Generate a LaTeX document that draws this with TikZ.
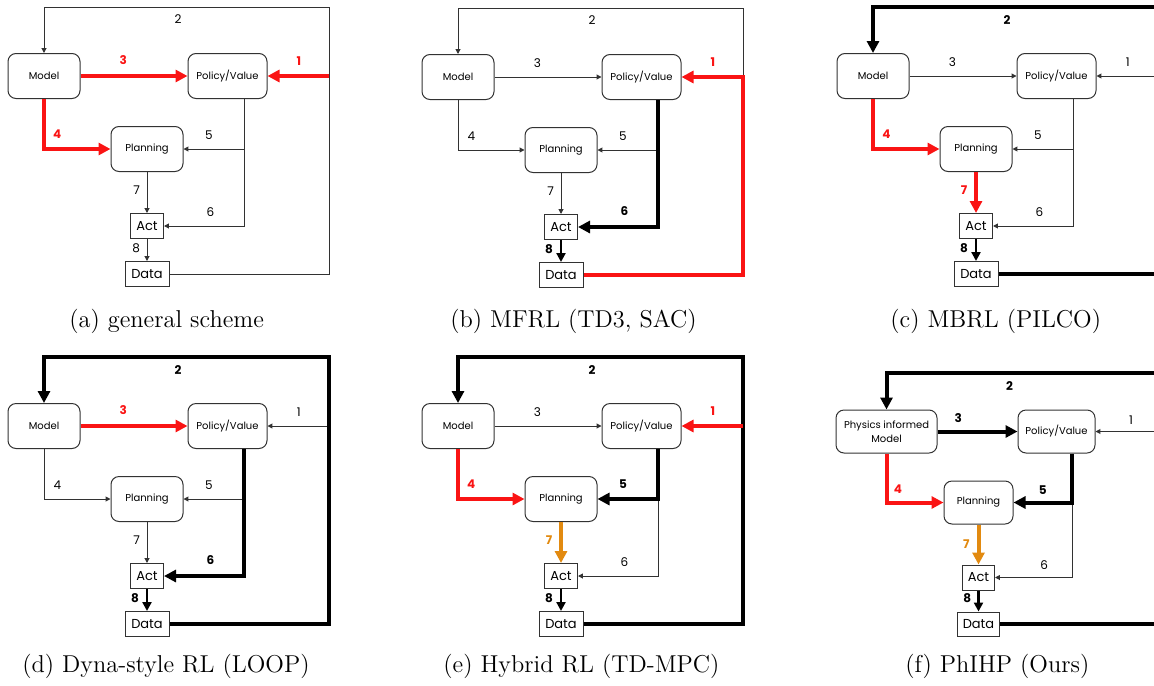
\documentclass[tikz,border=0pt]{standalone}
\usepackage{fontspec}
\usetikzlibrary{arrows.meta,positioning}
\newfontfamily\gothic{Poppins}
\definecolor{PathRed}   {RGB}{250, 20, 20}
\definecolor{PathOrange}{RGB}{226,138, 16}
\definecolor{LineGray}  {RGB}{ 50, 50, 50}
\newcommand{\boxfont}{\gothic\fontsize{5}{6}\selectfont}
\newcommand{\actfont}{\gothic\fontsize{6.5}{7.5}\selectfont}
\newcommand{\numfont}{\gothic\fontsize{6}{7}\selectfont}
\newcommand{\subcapfont}{\fontsize{12.2}{14}\selectfont}
\tikzset{
  %% 圆角框 / 方框
  rlbox/.style={rectangle,rounded corners=4pt,draw=LineGray,line width=0.5pt,
                minimum width=36pt,minimum height=22.5pt,inner sep=1pt,
                font=\boxfont,align=center},
  sqbox/.style={rectangle,draw=LineGray,line width=0.5pt,
                minimum width=16.5pt,minimum height=12.5pt,inner sep=1pt,
                font=\actfont},
  %% 箭头
  tharr/.style={-{Triangle[length=2.4pt,width=2.4pt]},line width=0.5pt,color=LineGray},
  tkarr/.style={-{Triangle[length=6pt,width=6pt]},line width=2pt,color=black},
  mdarr/.style={-{Triangle[length=4.5pt,width=4.5pt]},line width=1.4pt,color=black},
  rdarr/.style={tkarr,color=PathRed},
  orarr/.style={tkarr,color=PathOrange},
  %% 编号
  num/.style={font=\numfont,inner sep=0.5pt,text=black},
  numb/.style={num,font=\numfont\bfseries},
  numr/.style={numb,text=PathRed},
  numo/.style={numb,text=PathOrange},
  subcap/.style={font=\subcapfont,anchor=base west,inner sep=0pt},
}
\begin{document}
\begin{tikzpicture}[x=0.5pt,y=-0.5pt]
  \useasboundingbox (0,0) rectangle (1154,685);
  \clip (0,0) rectangle (1154,685);

  %% (a) general scheme
  \begin{scope}
    \node[rlbox] (MDa) at (44,76) {Model};
    \node[rlbox, minimum width=39.5pt, right=53.5pt of MDa] (PVa) {Policy/Value};
    \node[rlbox, below right=13.5pt and 15pt of MDa] (PLa) {Planning};
    \node[sqbox, below=20.5pt of PLa] (ACTa) {Act};
    \node[sqbox, minimum width=22pt, below=11pt of ACTa] (DATa) {Data};
    \coordinate (TRa) at (329,7);
    \coordinate (TLa) at (MDa.north |- TRa);
    \coordinate (Ra)  at (TRa |- PVa.east);
    \coordinate (DTa) at ([xshift=8.25pt]PVa.south);

    \draw[tharr] (DATa.east) -| (TRa) -- node[num,pos=.53,below=2.9pt] (n2a) {2} (TLa) -- (MDa.north);
    \draw[tharr] (DTa) |- node[num,pos=.79,above=4pt] (n5a) {5} (PLa.east);
    \draw[tharr] (DTa) |- node[num,pos=.71,above=4pt] (n6a) {6} (ACTa.east);
    \draw[tharr] (PLa.south) -- node[num,pos=.44,left=2.8pt] (n7a) {7} (ACTa.north);
    \draw[tharr] (ACTa.south) -- node[num,pos=.41,left=2.8pt] (n8a) {8} (DATa.north);
    \draw[rdarr] (MDa.east) -- node[numr,pos=.4,above=4pt] (n3a) {3} (PVa.west);
    \draw[rdarr] (Ra) -- node[numr,pos=.49,above=4pt] (n1a) {1} (PVa.east);
    \draw[rdarr] (MDa.south) |- node[numr,pos=.6,above=4pt] (n4a) {4} (PLa.west);
  \end{scope}

  %% (b) MFRL
  \begin{scope}[shift={(414,1)}]
    \node[rlbox] (MDb) at (44,76) {Model};
    \node[rlbox, minimum width=39.5pt, right=53.5pt of MDb] (PVb) {Policy/Value};
    \node[rlbox, below right=13.5pt and 15pt of MDb] (PLb) {Planning};
    \node[sqbox, below=20.5pt of PLb] (ACTb) {Act};
    \node[sqbox, minimum width=22pt, below=11pt of ACTb] (DATb) {Data};
    \coordinate (TRb) at (329,7);
    \coordinate (TLb) at (MDb.north |- TRb);
    \coordinate (Rb)  at (TRb |- PVb.east);
    \coordinate (DTb) at ([xshift=8.25pt]PVb.south);

    \draw[tharr] (Rb) -- (TRb) -- node[num,pos=.53,below=2.9pt] (n2b) {2} (TLb) -- (MDb.north);
    \draw[tharr] (MDb.east) -- node[num,pos=.4,above=4pt] (n3b) {3} (PVb.west);
    \draw[tharr] (MDb.south) |- node[num,pos=.6,above=4pt] (n4b) {4} (PLb.west);
    \draw[tharr] (DTb) |- node[num,pos=.79,above=4pt] (n5b) {5} (PLb.east);
    \draw[tharr] (PLb.south) -- node[num,pos=.44,left=2.8pt] (n7b) {7} (ACTb.north);
    \draw[tkarr] (DTb) |- node[numb,pos=.71,above=4pt] (n6b) {6} (ACTb.east);
    \draw[mdarr] (ACTb.south) -- node[numb,pos=.41,left=2.8pt] (n8b) {8} (DATb.north);
    \draw[rdarr] (DATb.east) -| (Rb) -- node[numr,pos=.49,above=4pt] (n1b) {1} (PVb.east);
  \end{scope}

  %% (c) MBRL
  \begin{scope}[shift={(829,0)}]
    \node[rlbox] (MDc) at (44,76) {Model};
    \node[rlbox, minimum width=39.5pt, right=53.5pt of MDc] (PVc) {Policy/Value};
    \node[rlbox, below right=13.5pt and 15pt of MDc] (PLc) {Planning};
    \node[sqbox, below=20.5pt of PLc] (ACTc) {Act};
    \node[sqbox, minimum width=22pt, below=11pt of ACTc] (DATc) {Data};
    \coordinate (TRc) at (329,7);
    \coordinate (TLc) at (MDc.north |- TRc);
    \coordinate (Rc)  at (TRc |- PVc.east);
    \coordinate (DTc) at ([xshift=8.25pt]PVc.south);

    \draw[tharr] (Rc) -- node[num,pos=.49,above=4pt] (n1c) {1} (PVc.east);
    \draw[tharr] (MDc.east) -- node[num,pos=.4,above=4pt] (n3c) {3} (PVc.west);
    \draw[tharr] (DTc) |- node[num,pos=.79,above=4pt] (n5c) {5} (PLc.east);
    \draw[tharr] (DTc) |- node[num,pos=.71,above=4pt] (n6c) {6} (ACTc.east);
    \draw[tkarr] (DATc.east) -| (TRc) -- node[numb,pos=.53,below=2.9pt] (n2c) {2} (TLc) -- (MDc.north);
    \draw[rdarr] (MDc.south) |- node[numr,pos=.6,above=4pt] (n4c) {4} (PLc.west);
    \draw[rdarr] (PLc.south) -- node[numr,pos=.44,left=2.8pt] (n7c) {7} (ACTc.north);
    \draw[mdarr] (ACTc.south) -- node[numb,pos=.41,left=2.8pt] (n8c) {8} (DATc.north);
  \end{scope}

  %% (d) Dyna-style RL
  \begin{scope}[shift={(0,350)}]
    \node[rlbox] (MDd) at (44,76) {Model};
    \node[rlbox, minimum width=39.5pt, right=53.5pt of MDd] (PVd) {Policy/Value};
    \node[rlbox, below right=13.5pt and 15pt of MDd] (PLd) {Planning};
    \node[sqbox, below=20.5pt of PLd] (ACTd) {Act};
    \node[sqbox, minimum width=22pt, below=11pt of ACTd] (DATd) {Data};
    \coordinate (TRd) at (329,7);
    \coordinate (TLd) at (MDd.north |- TRd);
    \coordinate (Rd)  at (TRd |- PVd.east);
    \coordinate (DTd) at ([xshift=8.25pt]PVd.south);

    \draw[tharr] (Rd) -- node[num,pos=.49,above=4pt] (n1d) {1} (PVd.east);
    \draw[tharr] (MDd.south) |- node[num,pos=.6,above=4pt] (n4d) {4} (PLd.west);
    \draw[tharr] (DTd) |- node[num,pos=.79,above=4pt] (n5d) {5} (PLd.east);
    \draw[tharr] (PLd.south) -- node[num,pos=.44,left=2.8pt] (n7d) {7} (ACTd.north);
    \draw[tkarr] (DATd.east) -| (TRd) -- node[numb,pos=.53,below=2.9pt] (n2d) {2} (TLd) -- (MDd.north);
    \draw[rdarr] (MDd.east) -- node[numr,pos=.4,above=4pt] (n3d) {3} (PVd.west);
    \draw[tkarr] (DTd) |- node[numb,pos=.71,above=4pt] (n6d) {6} (ACTd.east);
    \draw[mdarr] (ACTd.south) -- node[numb,pos=.41,left=2.8pt] (n8d) {8} (DATd.north);
  \end{scope}

  %% (e) Hybrid RL
  \begin{scope}[shift={(414,350)}]
    \node[rlbox] (MDe) at (44,76) {Model};
    \node[rlbox, minimum width=39.5pt, right=53.5pt of MDe] (PVe) {Policy/Value};
    \node[rlbox, below right=13.5pt and 15pt of MDe] (PLe) {Planning};
    \node[sqbox, below=20.5pt of PLe] (ACTe) {Act};
    \node[sqbox, minimum width=22pt, below=11pt of ACTe] (DATe) {Data};
    \coordinate (TRe) at (329,7);
    \coordinate (TLe) at (MDe.north |- TRe);
    \coordinate (Re)  at (TRe |- PVe.east);
    \coordinate (DTe) at ([xshift=8.25pt]PVe.south);

    \draw[tharr] (MDe.east) -- node[num,pos=.4,above=4pt] (n3e) {3} (PVe.west);
    \draw[tharr] (DTe) |- node[num,pos=.71,above=4pt] (n6e) {6} (ACTe.east);
    \draw[tkarr] (DATe.east) -| (TRe) -- node[numb,pos=.53,below=2.9pt] (n2e) {2} (TLe) -- (MDe.north);
    \draw[rdarr] (Re) -- node[numr,pos=.49,above=4pt] (n1e) {1} (PVe.east);
    \draw[rdarr] (MDe.south) |- node[numr,pos=.6,above=4pt] (n4e) {4} (PLe.west);
    \draw[tkarr] (DTe) |- node[numb,pos=.79,above=4pt] (n5e) {5} (PLe.east);
    \draw[orarr] (PLe.south) -- node[numo,pos=.44,left=2.8pt] (n7e) {7} (ACTe.north);
    \draw[mdarr] (ACTe.south) -- node[numb,pos=.41,left=2.8pt] (n8e) {8} (DATe.north);
  \end{scope}

  %% (f) PhIHP
  \node[rlbox, minimum width=50.5pt, minimum height=21.5pt,
        font=\gothic\fontsize{5}{7}\selectfont] (MDf) at (886.5,431.5) {Physics informed\\Model};
  \node[rlbox, minimum width=38.5pt, minimum height=21.5pt, right=40pt of MDf] (PVf) {Policy/Value};
  \node[rlbox, minimum width=34.5pt, minimum height=21.5pt, below right=13.5pt and 3pt of MDf] (PLf) {Planning};
  \node[sqbox, minimum width=16pt, below=20pt of PLf] (ACTf) {Act};
  \node[sqbox, minimum width=21pt, minimum height=12pt, below=10.5pt of ACTf] (DATf) {Data};
  \coordinate (TRf) at (1160,373);
  \coordinate (TLf) at (MDf.north |- TRf);
  \coordinate (Rf)  at (TRf |- PVf.east);
  \coordinate (DTf) at ([xshift=7.75pt]PVf.south);

  \draw[tharr] (Rf) -- node[num,pos=.45,above=3pt] (n1f) {1} (PVf.east);
  \draw[tharr] (DTf) |- node[num,pos=.68,above=3pt] (n6f) {6} (ACTf.east);
  \draw[tkarr] (DATf.east) -| (TRf) -- node[numb,pos=.55,below=2.9pt] (n2f) {2} (TLf) -- (MDf.north);
  \draw[tkarr] (MDf.east) -- node[numb,pos=.26,above=3pt] (n3f) {3} (PVf.west);
  \draw[rdarr] (MDf.south) |- node[numr,pos=.6,above=3pt] (n4f) {4} (PLf.west);
  \draw[tkarr] (DTf) |- node[numb,pos=.75,above=2.5pt] (n5f) {5} (PLf.east);
  \draw[orarr] (PLf.south) -- node[numo,pos=.48,left=3pt] (n7f) {7} (ACTf.north);
  \draw[mdarr] (ACTf.south) -- node[numb,pos=.38,left=2.5pt] (n8f) {8} (DATf.north);

  %% 子图标题
  \node[subcap] (capa) at (69,327)  {(a) general scheme};
  \node[subcap] (capb) at (450,327) {(b) MFRL (TD3, SAC)};
  \node[subcap] (capc) at (890,327) {(c) MBRL (PILCO)};
  \node[subcap] (capd) at (22,672)  {(d) Dyna-style RL (LOOP)};
  \node[subcap] (cape) at (443,672) {(e) Hybrid RL (TD-MPC)};
  \node[subcap] (capf) at (905,672) {(f) PhIHP (Ours)};
\end{tikzpicture}
\end{document}
